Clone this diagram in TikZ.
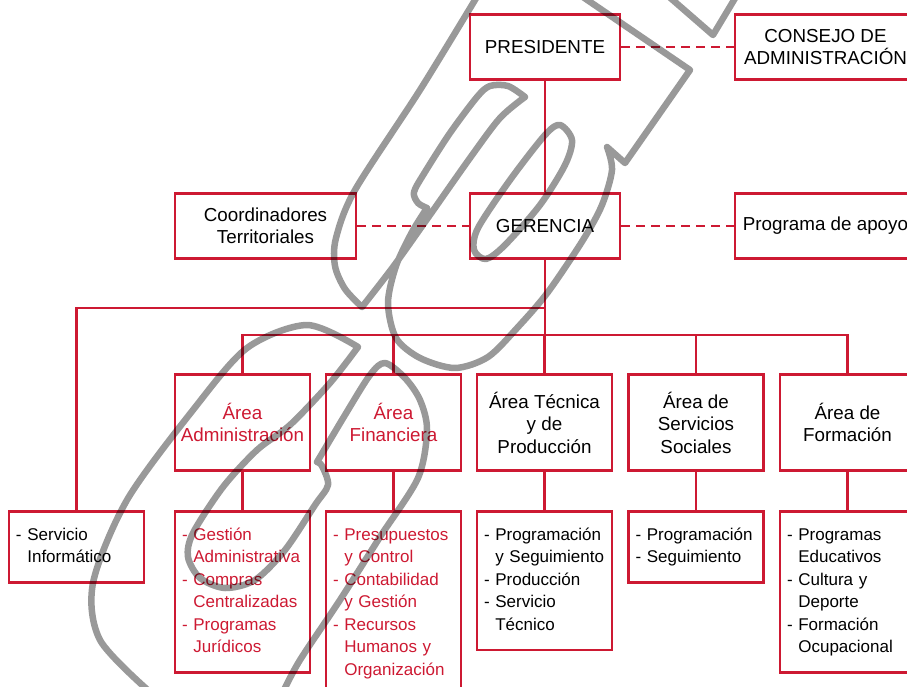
\documentclass[tikz,border=0pt]{standalone}
\usepackage{fontspec}
\setmainfont{Liberation Sans}
\definecolor{orgred}{RGB}{205,25,50}
\tikzset{
	box/.style={draw=orgred, line width=2.6pt, rectangle, inner sep=0pt, align=center, font=\fontsize{18.8}{22.5}\selectfont},
	topbox/.style={box, minimum width=150pt, minimum height=65pt},
	sidebox/.style={box, minimum width=181pt, minimum height=65pt},
	areabox/.style={box, minimum width=135pt, minimum height=96pt},
	listbox/.style={draw=orgred, line width=2.6pt, rectangle, anchor=north, inner xsep=7pt, inner ysep=13pt, text width=121pt, align=left, font=\fontsize{17}{22.5}\selectfont, execute at begin node=\strut, execute at end node=\strut},
	link/.style={draw=orgred, line width=2.8pt},
	dashlink/.style={link, dash pattern=on 9pt off 6pt},
	wmark/.style={line width=6.5pt, black, opacity=0.4, line cap=round, line join=round}
}
\begin{document}
\begin{tikzpicture}[x=1pt,y=1pt,yscale=-1,xscale=1]
		\useasboundingbox (0,0) rectangle (907,687);
		% top levels
		\node[topbox] (pres) at (545,47) {PRESIDENTE};
		\node[sidebox] (consejo) at (825.5,47) {CONSEJO DE\\ADMINISTRACIÓN};
		\node[topbox] (ger) at (545,226) {GERENCIA};
		\node[sidebox] (coord) at (265.5,226) {Coordinadores\\Territoriales};
		\node[sidebox] (apoyo) at (825.5,226) {Programa de apoyo};
		% areas
		\node[areabox, text=orgred] (adm) at (242.5,422.5) {Área\\Administración};
		\node[areabox, text=orgred] (fin) at (393.5,422.5) {Área\\Financiera};
		\node[areabox] (tec) at (544.5,422.5) {Área Técnica\\y de\\Producción};
		\node[areabox] (soc) at (696,422.5) {Área de\\Servicios\\Sociales};
		\node[areabox] (form) at (847.5,422.5) {Área de\\Formación};
		% lists
		\node[listbox] (info) at (76.5,510) {- Servicio\\\phantom{- }Informático};
		\node[listbox, text=orgred] (admsub) at (242.5,510) {- Gestión\\\phantom{- }Administrativa\\- Compras\\\phantom{- }Centralizadas\\- Programas\\\phantom{- }Jurídicos};
		\node[listbox, text=orgred] (finsub) at (393.5,510) {- Presupuestos\\\phantom{- }y Control\\- Contabilidad\\\phantom{- }y Gestión\\- Recursos\\\phantom{- }Humanos y\\\phantom{- }Organización};
		\node[listbox] (tecsub) at (544.5,510) {- Programación\\\phantom{- }y Seguimiento\\- Producción\\- Servicio\\\phantom{- }Técnico};
		\node[listbox] (socsub) at (696,510) {- Programación\\- Seguimiento};
		\node[listbox] (formsub) at (847.5,510) {- Programas\\\phantom{- }Educativos\\- Cultura y\\\phantom{- }Deporte\\- Formación\\\phantom{- }Ocupacional};
		% connectors
		\coordinate (busa) at (545,308);
		\coordinate (busb) at (545,335);
		\draw[link] (pres.south) -- (ger.north);
		\draw[link] (ger.south) -- (busb);
		\draw[link] (busa) -| (info.north);
		\foreach \n in {adm,fin,tec,soc,form}{
			\draw[link] (busb) -| (\n.north);
			\draw[link] (\n.south) -- (\n sub.north);
		}
		\draw[dashlink] (pres.east) -- (consejo.west);
		\draw[dashlink] (coord.east) -- (ger.west);
		\draw[dashlink] (ger.east) -- (apoyo.west);
		% watermark
		\draw[wmark]
			plot[smooth] coordinates {(478,-5) (420,90) (355,190) (336,238) (335,266) (345,289) (362,307)}
			plot[smooth] coordinates {(362,307) (393,267) (425,222) (470,158) (500,118) (525,97)}
			plot[smooth] coordinates {(525,97) (508,86) (490,86) (477,97) (450,133) (425,172) (414,192) (418,203) (427,208)}
			plot[smooth] coordinates {(427,208) (412,232) (396,266) (388,303) (396,338) (420,358) (455,368) (488,357) (518,327) (548,292) (583,240) (602,205) (612,170) (607,147)}
			plot coordinates {(607,147) (625,163) (690,70) (580,-5)}
			plot coordinates {(667,-5) (713,35) (737,-5)}
			plot[smooth cycle] coordinates {(560,125) (572,140) (565,165) (540,205) (505,245) (486,259) (474,250) (478,228) (510,180) (545,135)}
			plot[smooth] coordinates {(150,692) (100,640) (93,583) (127,500) (193,410) (247,348) (307,325) (358,347)}
			plot[smooth] coordinates {(358,347) (330,383) (290,425) (257,450) (223,487) (193,533) (188,557) (200,578) (225,588) (255,580) (285,550) (315,505) (328,485) (322,466) (317,462)}
			plot[smooth] coordinates {(317,462) (345,415) (370,375) (385,363) (405,378) (420,400) (427,430) (418,478) (380,537) (340,600) (300,660) (283,692)};
	\end{tikzpicture}
\end{document}
